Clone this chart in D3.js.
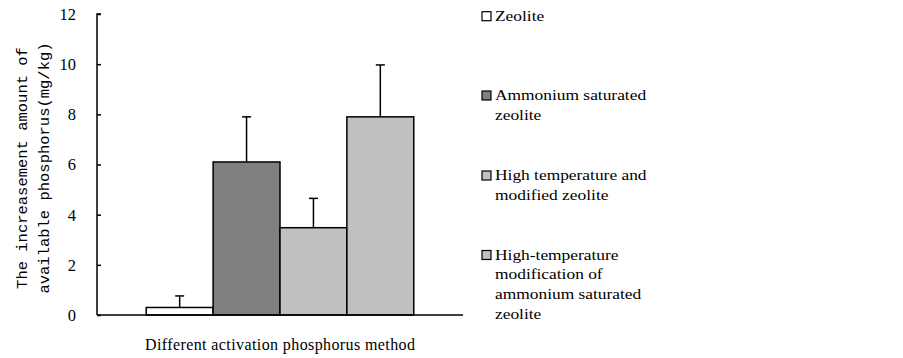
<!DOCTYPE html>
<html>
<head>
<meta charset="utf-8">
<script src="https://cdn.jsdelivr.net/npm/d3@7"></script>
<style>
  body { margin: 0; background: #fff; }
  text { fill: #000; }
  .serif { font-family: "Liberation Serif", "Times New Roman", Times, serif; }
  .mono { font-family: "Liberation Mono", "Courier New", monospace; }
</style>
</head>
<body>
<div id="chart"></div>
<script>
const width = 903;
const height = 358;

// data
const groupLabel = "Different activation phosphorus method";
const seriesNames = ["Zeolite", "Ammonium saturated zeolite", "High temperature and modified zeolite",
    "High-temperature modification of ammonium saturated zeolite"];
const seriesValues = [0.3, 6.1, 3.48, 7.9];
const seriesErrors = [0.46, 1.8, 1.17, 2.07];
const seriesColors = ["#ffffff", "#808080", "#c0c0c0", "#c0c0c0"];
const legendLines = [
    ["Zeolite"],
    ["Ammonium saturated", "zeolite"],
    ["High temperature and", "modified zeolite"],
    ["High-temperature", "modification of", "ammonium saturated", "zeolite"]
];
const yTicks = [0, 2, 4, 6, 8, 10, 12];
const yTitle = ["The increasement amount of", "available phosphorus(mg/kg)"];

const svg = d3.select("#chart")
    .append("svg")
    .attr("width", width)
    .attr("height", height);

const plotLeft = 97, plotRight = 463, plotTop = 14, plotBottom = 315;

const y = d3.scaleLinear()
    .domain([0, 12])
    .range([plotBottom, plotTop]);

const x0 = d3.scaleBand()
    .domain([groupLabel])
    .range([plotLeft, plotRight])
    .paddingInner(0)
    .paddingOuter(0.184);

const x1 = d3.scaleBand()
    .domain(seriesNames)
    .range([0, x0.bandwidth()])
    .padding(0);

const data = seriesNames.map((name, i) => ({
    name: name, value: seriesValues[i], err: seriesErrors[i], color: seriesColors[i]
}));

// error bars (drawn first so bars cover the stem base)
const g = svg.append("g").attr("transform", `translate(${x0(groupLabel)},0)`);

g.selectAll("line.err")
    .data(data)
    .enter()
    .append("line")
    .attr("class", "err")
    .attr("x1", d => x1(d.name) + x1.bandwidth() / 2)
    .attr("x2", d => x1(d.name) + x1.bandwidth() / 2)
    .attr("y1", d => y(d.value))
    .attr("y2", d => y(d.value + d.err))
    .attr("stroke", "#000")
    .attr("stroke-width", 1.5);

g.selectAll("line.cap")
    .data(data)
    .enter()
    .append("line")
    .attr("class", "cap")
    .attr("x1", d => x1(d.name) + x1.bandwidth() / 2 - 4.5)
    .attr("x2", d => x1(d.name) + x1.bandwidth() / 2 + 4.5)
    .attr("y1", d => y(d.value + d.err))
    .attr("y2", d => y(d.value + d.err))
    .attr("stroke", "#000")
    .attr("stroke-width", 1.5);

g.selectAll("rect")
    .data(data)
    .enter()
    .append("rect")
    .attr("x", d => x1(d.name))
    .attr("y", d => y(d.value))
    .attr("width", x1.bandwidth())
    .attr("height", d => y(0) - y(d.value))
    .attr("fill", d => d.color)
    .attr("stroke", "#000")
    .attr("stroke-width", 1.5);

// y axis, ticks pointing inside
const yAxis = svg.append("g")
    .attr("transform", `translate(${plotLeft},0)`)
    .call(d3.axisRight(y).tickValues(yTicks).tickSize(4).tickFormat(""));
yAxis.select(".domain").attr("d", `M4,${plotTop}H0V${plotBottom}`).attr("stroke-width", 1.5);
yAxis.selectAll(".tick line").attr("stroke-width", 1.5);

svg.selectAll("text.ytick")
    .data(yTicks)
    .enter()
    .append("text")
    .attr("class", "ytick serif")
    .attr("x", 76)
    .attr("y", d => y(d))
    .attr("dy", "0.36em")
    .attr("text-anchor", "end")
    .style("font-size", "16.5px")
    .text(d => d);

// x axis line
svg.append("line")
    .attr("x1", plotLeft)
    .attr("x2", plotRight)
    .attr("y1", y(0))
    .attr("y2", y(0))
    .attr("stroke", "#000")
    .attr("stroke-width", 1.5);

svg.append("text")
    .attr("class", "serif")
    .attr("x", x0(groupLabel) + x0.bandwidth() / 2)
    .attr("y", 350)
    .attr("text-anchor", "middle")
    .style("font-size", "16px")
    .attr("textLength", 270)
    .text(groupLabel);

// y title, two rotated lines
svg.selectAll("text.ytitle")
    .data(yTitle)
    .enter()
    .append("text")
    .attr("class", "ytitle mono")
    .attr("transform", (d, i) => `translate(${27 + i * 22},168) rotate(-90)`)
    .attr("text-anchor", "middle")
    .style("font-size", "15.5px")
    .text(d => d);

// legend
const legend = svg.append("g");
const itemY = [20.7, 100, 180, 259.5];

legendLines.forEach((lines, i) => {
    legend.append("rect")
        .attr("x", 482)
        .attr("y", itemY[i] - 9)
        .attr("width", 9)
        .attr("height", 9)
        .attr("fill", seriesColors[i])
        .attr("stroke", "#000")
        .attr("stroke-width", 1.2);
    lines.forEach((line, j) => {
        legend.append("text")
            .attr("class", "serif")
            .attr("transform", `translate(495,${itemY[i] + j * 19.7}) scale(1.2,1)`)
            .style("font-size", "14.5px")
            .text(line);
    });
});
</script>
</body>
</html>
